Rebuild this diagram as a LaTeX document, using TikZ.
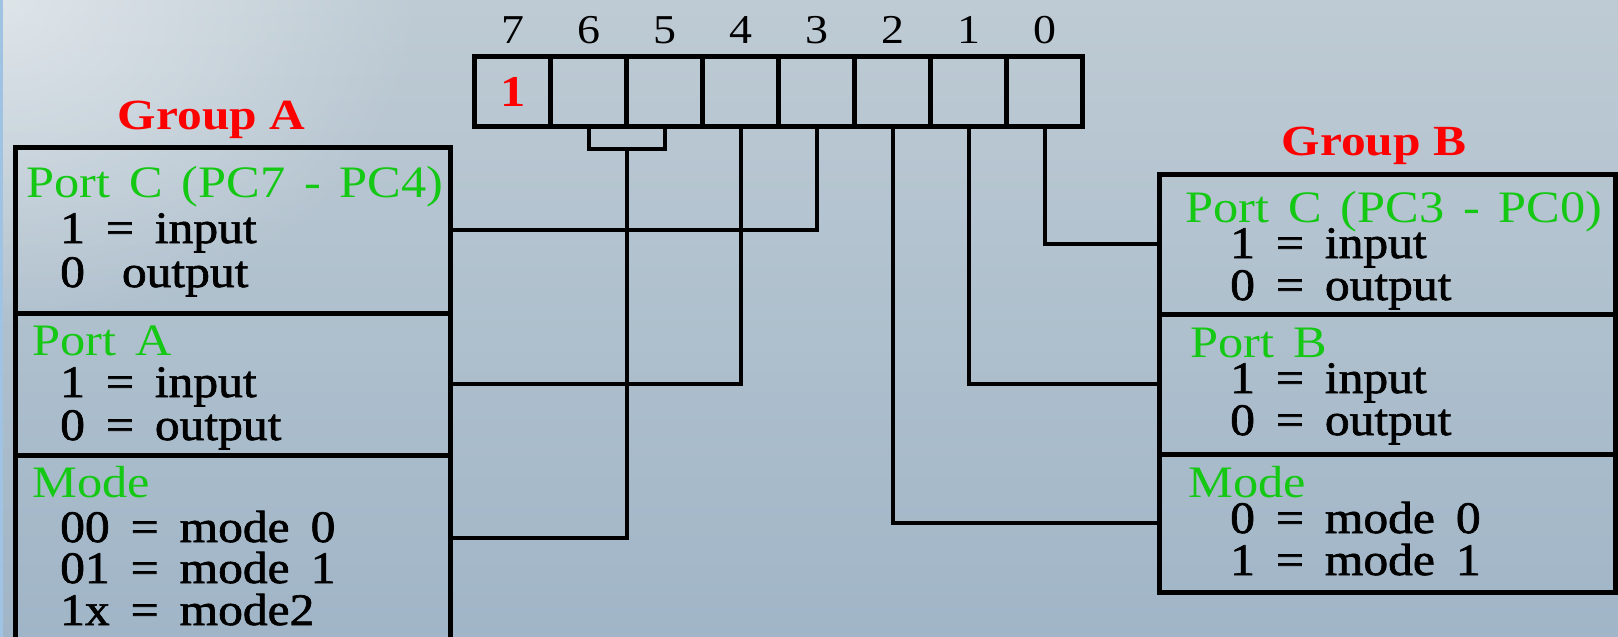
\documentclass[tikz,border=0pt]{standalone}
\usepackage{fontspec}
\setmainfont{Liberation Serif}[FakeStretch=1.12,WordSpace=1.5]
\newfontfamily\blkfont{Liberation Serif}[FakeStretch=1.1,WordSpace=1.7,FakeBold=1.5]
\newfontfamily\grpfont{Liberation Serif}[FakeStretch=1.15]
\usetikzlibrary{fadings}
\tikzfading[name=glowfade, inner color=transparent!0, outer color=transparent!100]
\definecolor{grn}{RGB}{20,200,20}
\definecolor{rd}{RGB}{255,0,0}
\definecolor{bgtop}{RGB}{190,203,212}
\definecolor{bgbot}{RGB}{160,181,199}
\definecolor{edgeblue}{RGB}{160,195,228}
\begin{document}
\begin{tikzpicture}[x=1pt,y=-1pt,
  cell/.style={draw,line width=4.5pt,minimum width=76pt,minimum height=70pt,inner sep=0pt,outer sep=0pt,anchor=north west},
  pbox/.style={draw,line width=5pt,inner sep=0pt,outer sep=0pt,anchor=north west},
  txt/.style={anchor=base west,inner sep=0pt,font=\fontsize{45}{45}\blkfont},
  hd/.style={anchor=base west,inner sep=0pt,text=grn,font=\fontsize{45}{45}\selectfont},
  grp/.style={anchor=base,inner sep=0pt,text=rd,font=\fontsize{43}{43}\grpfont\bfseries},
  bitnum/.style={anchor=base,inner sep=0pt,font=\fontsize{41}{41}\selectfont},
  wire/.style={line width=4.3pt}
]
\useasboundingbox (0,0) rectangle (1618,637);
\clip (0,0) rectangle (1618,637);
% background
\shade[top color=bgtop,bottom color=bgbot] (0,0) rectangle (1618,637);
\fill[white,opacity=0.5,path fading=glowfade] (0,0) ellipse [x radius=420,y radius=330];
\fill[edgeblue] (0,0) rectangle (2.5,637);

% register cells
\foreach \k in {0,...,7} {
  \pgfmathtruncatemacro\b{7-\k}
  \node[cell] (b\b) at ({474.7+76*\k},56.7) {};
  \node[bitnum] (n\b) at ([yshift=13pt]b\b.north) {\b};
}
\node[inner sep=0pt,text=rd,font=\fontsize{44}{44}\grpfont\bfseries] (one) at (b7.center) {1};

% group A boxes
\node[pbox,minimum width=435pt,minimum height=165.5pt] (lC) at (15,147.5) {};
\node[pbox,minimum width=435pt,minimum height=142pt] (lA) at (15,313) {};
\node[pbox,minimum width=435pt,minimum height=240pt] (lM) at (15,455) {};
% group B boxes
\node[pbox,minimum width=456pt,minimum height=140pt] (rC) at (1159,174) {};
\node[pbox,minimum width=456pt,minimum height=140pt] (rB) at (1159,314) {};
\node[pbox,minimum width=456pt,minimum height=138pt] (rM) at (1159,454) {};

% wires
\draw[wire] (b3.south) |- (lC.east);
\draw[wire] (b4.south) |- (lA.east);
\draw[wire] (b6.south) -- ++(0,22) -| (b5.south);
\coordinate (brk) at ([yshift=-22pt]b6.south east);
\draw[wire] (brk) |- ([yshift=-83pt]lM.north east);
\draw[wire] (b2.south) |- (rM.west);
\draw[wire] (b1.south) |- (rB.west);
\draw[wire] (b0.south) |- (rC.west);

% labels
\node[grp] (gA) at (211.5,129) {Group A};
\node[grp] (gB) at (1374,155) {Group B};

\node[hd] (lCh) at (26,197) {Port C (PC7 - PC4)};
\node[txt] (lC1) at (60,243) {1 = input};
\node[txt] (lC0) at (60,287) {0\hspace{37pt}output};
\node[hd] (lAh) at (32,355) {Port A};
\node[txt] (lA1) at (60,397) {1 = input};
\node[txt] (lA0) at (60,440) {0 = output};
\node[hd] (lMh) at (32,497) {Mode};
\node[txt] (lM0) at (60,542) {00 = mode 0};
\node[txt] (lM1) at (60,583) {01 = mode 1};
\node[txt] (lM2) at (60,625) {1x = mode2};

\node[hd] (rCh) at (1185,222) {Port C (PC3 - PC0)};
\node[txt] (rC1) at (1230,258) {1 = input};
\node[txt] (rC0) at (1230,300) {0 = output};
\node[hd] (rBh) at (1190,357) {Port B};
\node[txt] (rB1) at (1230,393) {1 = input};
\node[txt] (rB0) at (1230,435) {0 = output};
\node[hd] (rMh) at (1188,497) {Mode};
\node[txt] (rM0) at (1230,533) {0 = mode 0};
\node[txt] (rM1) at (1230,575) {1 = mode 1};
\end{tikzpicture}
\end{document}
